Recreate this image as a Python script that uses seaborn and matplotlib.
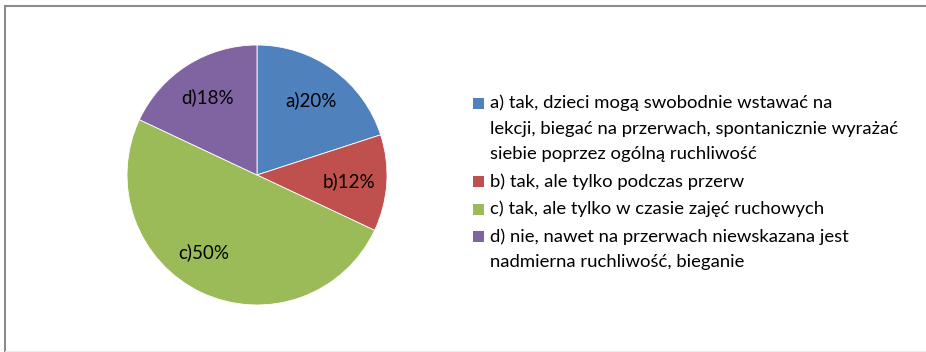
import matplotlib
matplotlib.use("Agg")
import matplotlib.pyplot as plt
from matplotlib.lines import Line2D
from matplotlib.patches import Rectangle
import seaborn as sns

# Survey answers and their shares (%)
codes = ["a", "b", "c", "d"]
shares = [20, 12, 50, 18]
legend_lines = [
    ["a) tak, dzieci mogą swobodnie wstawać na",
     "lekcji, biegać na przerwach, spontanicznie wyrażać",
     "siebie poprzez ogólną ruchliwość"],
    ["b) tak, ale tylko podczas przerw"],
    ["c) tak, ale tylko w czasie zajęć ruchowych"],
    ["d) nie, nawet na przerwach niewskazana jest",
     "nadmierna ruchliwość, bieganie"],
]
colors = sns.color_palette(["#4F81BD", "#C0504D", "#9BBB59", "#8064A2"])

sns.set_theme(style="white")
plt.rcParams["font.family"] = ["Lato", "DejaVu Sans"]

W, H = 926, 352
fig = plt.figure(figsize=(W / 100, H / 100), dpi=100)
fig.patch.set_facecolor("white")

# Pie area: centre (257, 175) px, radius 130 px
cx, cy, r = 257, 175, 130
ax = fig.add_axes([(cx - r) / W, (H - cy - r) / H, 2 * r / W, 2 * r / H])
labels = [f"{c}){s}%" for c, s in zip(codes, shares)]
wedges, texts = ax.pie(
    shares, colors=colors, startangle=90, counterclock=False,
    labels=labels, labeldistance=0.71,
    wedgeprops=dict(linewidth=0.6, edgecolor="white"),
    textprops=dict(fontsize=13.5, color="black", ha="center", va="center"),
)
for t in texts:
    t.set_ha("center")
    t.set_va("center")
# nudge the large slice's label toward its lower-left
x, y = texts[2].get_position()
texts[2].set_position((x - 0.11, y + 0.05))
ax.set_xlim(-1, 1)
ax.set_ylim(-1, 1)
ax.set_aspect("equal")
ax.axis("off")

# Legend drawn as squares with wrapped text lines
marker_x = 473
text_x = 490
line_step = 25.5
entry_gap = 2.0
y = 103
sq = 11
for col, lines in zip(colors, legend_lines):
    fig.patches.append(Rectangle((marker_x / W, (H - y - sq / 2) / H), sq / W, sq / H,
                                 transform=fig.transFigure, facecolor=col,
                                 edgecolor="none", figure=fig))
    for line in lines:
        fig.text(text_x / W, (H - y) / H, line, fontsize=13.3, color="black",
                 ha="left", va="center")
        y += line_step
    y += entry_gap

# Chart-area border (top and left edges)
fig.add_artist(Line2D([4.5 / W, 1.0], [1 - 5.5 / H, 1 - 5.5 / H],
                      transform=fig.transFigure, color="#8c8c8c", linewidth=1.5))
fig.add_artist(Line2D([5.0 / W, 5.0 / W], [0.0, 1 - 5.5 / H],
                      transform=fig.transFigure, color="#8c8c8c", linewidth=1.5))
fig.add_artist(Line2D([5.0 / W, 1.0], [1.2 / H, 1.2 / H],
                      transform=fig.transFigure, color="#ececec", linewidth=0.8))

fig.savefig("out.png", dpi=100, facecolor="white")
